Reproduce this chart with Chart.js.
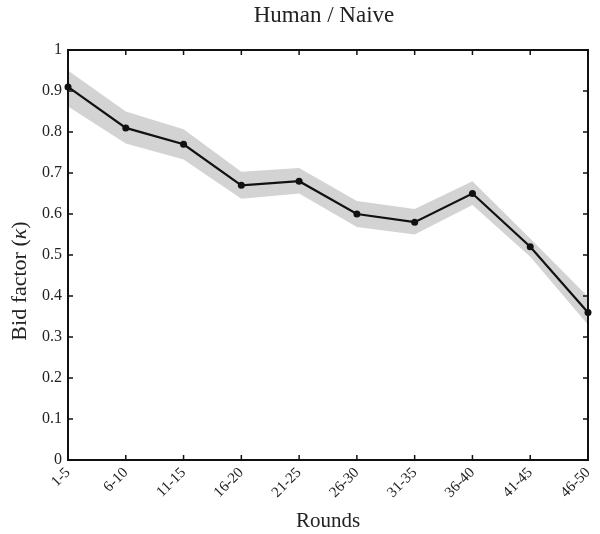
<!DOCTYPE html>
<html>
<head>
<meta charset="utf-8">
<script src="https://cdn.jsdelivr.net/npm/chart.js@4/dist/chart.umd.min.js"></script>
<style>
  html, body { margin: 0; padding: 0; background: #fff; }
  #wrap { width: 600px; height: 534px; }
</style>
</head>
<body>
<div id="wrap"><canvas id="chart" width="600" height="534"></canvas></div>
<script>
// data
const rounds = ['1-5', '6-10', '11-15', '16-20', '21-25', '26-30', '31-35', '36-40', '41-45', '46-50'];
const bidFactor = [0.91, 0.81, 0.77, 0.67, 0.68, 0.60, 0.58, 0.65, 0.52, 0.36];
const bandUpper = [0.950, 0.850, 0.807, 0.703, 0.712, 0.632, 0.612, 0.680, 0.540, 0.398];
const bandLower = [0.862, 0.772, 0.733, 0.637, 0.650, 0.568, 0.550, 0.622, 0.496, 0.330];
const yTicks = [0, 0.1, 0.2, 0.3, 0.4, 0.5, 0.6, 0.7, 0.8, 0.9, 1];

const FONT = "'Liberation Serif', 'DejaVu Serif', serif";

// box + inward ticks, matlab style, plus the title and y label
const boxPlugin = {
    id: 'box',
    afterDraw(chart) {
        const { ctx, chartArea: a, scales } = chart;
        ctx.save();
        ctx.strokeStyle = '#111';
        ctx.lineWidth = 2;
        ctx.strokeRect(a.left, a.top, a.right - a.left, a.bottom - a.top);
        ctx.lineWidth = 1.5;
        const t = 5;
        ctx.beginPath();
        scales.x.ticks.forEach((_, i) => {
            const px = scales.x.getPixelForTick(i);
            ctx.moveTo(px, a.bottom); ctx.lineTo(px, a.bottom - t);
            ctx.moveTo(px, a.top); ctx.lineTo(px, a.top + t);
        });
        scales.y.ticks.forEach((_, i) => {
            const py = scales.y.getPixelForTick(i);
            ctx.moveTo(a.left, py); ctx.lineTo(a.left + t, py);
            ctx.moveTo(a.right, py); ctx.lineTo(a.right - t, py);
        });
        ctx.stroke();

        // title over the plot area
        ctx.fillStyle = '#222';
        ctx.textAlign = 'center';
        ctx.textBaseline = 'middle';
        ctx.font = `23px ${FONT}`;
        ctx.fillText('Human / Naive', (a.left + a.right) / 2 - 4, 16);

        // y label with italic kappa
        ctx.translate(20, 281);
        ctx.rotate(-Math.PI / 2);
        const parts = [['Bid factor (', ''], ['κ', 'italic '], [')', '']];
        let w = 0;
        parts.forEach(p => { ctx.font = `${p[1]}22px ${FONT}`; w += ctx.measureText(p[0]).width; });
        let x = -w / 2;
        ctx.textAlign = 'left';
        parts.forEach(p => {
            ctx.font = `${p[1]}22px ${FONT}`;
            ctx.fillText(p[0], x, 0);
            x += ctx.measureText(p[0]).width;
        });
        ctx.restore();
    }
};

new Chart(document.getElementById('chart'), {
    type: 'line',
    data: {
        labels: rounds,
        datasets: [
            {
                data: bandUpper,
                order: 2,
                borderWidth: 0,
                pointRadius: 0,
                backgroundColor: '#d3d3d3',
                fill: '+1',
                tension: 0
            },
            {
                data: bandLower,
                order: 2,
                borderWidth: 0,
                pointRadius: 0,
                backgroundColor: '#d3d3d3',
                fill: false,
                tension: 0
            },
            {
                data: bidFactor,
                order: 0,
                clip: false,
                borderColor: '#111',
                borderWidth: 2.2,
                pointRadius: 3.5,
                pointBackgroundColor: '#111',
                pointBorderWidth: 0,
                fill: false,
                tension: 0
            }
        ]
    },
    options: {
        responsive: false,
        animation: false,
        layout: { padding: { left: 8, right: 12, top: 50, bottom: 0 } },
        plugins: {
            legend: { display: false },
            tooltip: { enabled: false },
            title: { display: false }
        },
        scales: {
            x: {
                offset: false,
                afterFit(scale) {
                    scale.height = 74;
                    scale.paddingLeft = 0;
                    scale.paddingRight = 0;
                },
                grid: { display: false, drawTicks: false },
                border: { display: false },
                ticks: {
                    color: '#222',
                    font: { family: FONT, size: 15 },
                    minRotation: 45,
                    maxRotation: 45,
                    autoSkip: false,
                    padding: 4
                },
                title: {
                    display: true,
                    text: 'Rounds',
                    color: '#222',
                    font: { family: FONT, size: 21 },
                    padding: { top: 2, bottom: 0 }
                }
            },
            y: {
                min: 0,
                max: 1,
                afterFit(scale) {
                    scale.width = 60;
                    scale.paddingTop = 0;
                    scale.paddingBottom = 0;
                },
                afterBuildTicks(scale) {
                    scale.ticks = yTicks.map(v => ({ value: v }));
                },
                grid: { display: false, drawTicks: false },
                border: { display: false },
                ticks: {
                    color: '#222',
                    font: { family: FONT, size: 16 },
                    padding: 6,
                    callback: v => String(v)
                },
                title: { display: false }
            }
        }
    },
    plugins: [boxPlugin]
});
</script>
</body>
</html>
